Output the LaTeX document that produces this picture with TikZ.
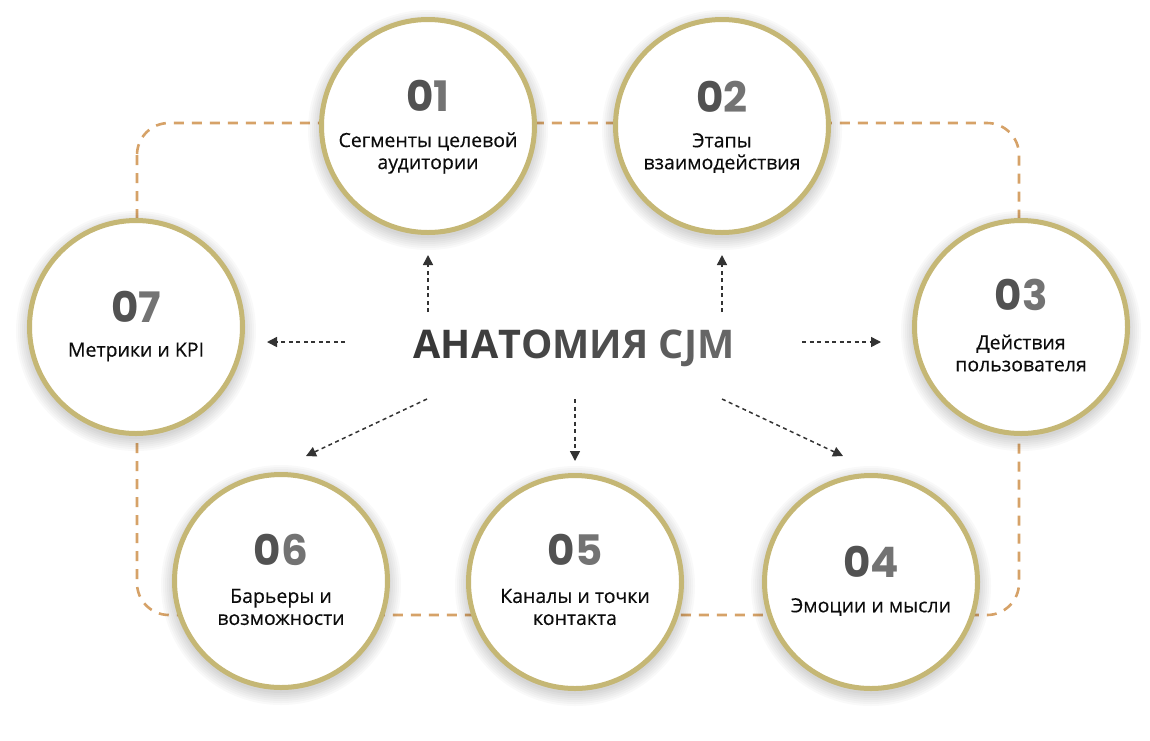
\documentclass[tikz,border=0pt]{standalone}
\usepackage{fontspec}
\setmainfont{Open Sans}
\newfontfamily\numfont{Poppins}
\newfontfamily\medfont{Open Sans}[FakeBold=0.35]
\usetikzlibrary{arrows.meta}
\definecolor{ring}{RGB}{197,183,117}
\definecolor{framec}{RGB}{214,162,104}
\definecolor{arrowc}{RGB}{51,51,51}
\definecolor{txt}{RGB}{12,12,12}
\newcommand\gl[2]{{\color[gray]{#1}#2}}
\newcommand\numtxt[2]{{\numfont\bfseries\gl{0.32}{#1}\gl{0.45}{#2}}}
\tikzset{
  circ/.style={circle, draw=ring, line width=5pt, fill=white, minimum size=213pt, inner sep=0pt},
  numlab/.style={font=\fontsize{42}{42}\selectfont, inner sep=0pt, anchor=center},
  txtlab/.style={font=\medfont\fontsize{19.5}{22}\selectfont, text=txt, align=center, inner sep=0pt, anchor=center},
  frameline/.style={draw=framec, line width=2.6pt, dash pattern=on 10pt off 8pt, rounded corners=32pt},
  conn/.style={draw=arrowc, line width=1.5pt, dash pattern=on 4pt off 3.5pt, -{Triangle[length=10pt,width=10pt]}},
  shad/.style={fill=black, fill opacity=0.022, draw=none}
}
\newcommand\shadowat[2]{%
  \foreach \r in {108,110,112,114,116,118,120}{\fill[shad] (#1,#2+4) circle[radius=\r];}}
\begin{document}
\begin{tikzpicture}[x=1pt,y=-1pt]
\useasboundingbox (0,0) rectangle (1150,740);
\fill[white] (0,0) rectangle (1150,740);
% frame
\draw[frameline] (137,123) rectangle (1019,615);
% shadows
\shadowat{428}{126}
\shadowat{722}{126}
\shadowat{1021}{327}
\shadowat{136}{327}
\shadowat{281}{581}
\shadowat{575}{582}
\shadowat{871}{582}
% circles
\node[circ] (c1) at (428,126) {};
\node[circ] (c2) at (722,126) {};
\node[circ] (c3) at (1021,327) {};
\node[circ] (c4) at (871,582) {};
\node[circ] (c5) at (575,582) {};
\node[circ] (c6) at (281,581) {};
\node[circ] (c7) at (136,327) {};
% labels
\node[numlab] (n1) at (428,96) {\numtxt{0}{1}};
\node[txtlab] (t1) at (428,153) {Сегменты целевой\\аудитории};
\node[numlab] (n2) at (722,97) {\numtxt{0}{2}};
\node[txtlab] (t2) at (722,153) {Этапы\\взаимодействия};
\node[numlab] (n3) at (1021,295) {\numtxt{0}{3}};
\node[txtlab] (t3) at (1021,353) {Действия\\пользователя};
\node[numlab] (n4) at (871,562) {\numtxt{0}{4}};
\node[txtlab] (t4) at (871,607) {Эмоции и мысли};
\node[numlab] (n5) at (575,550) {\numtxt{0}{5}};
\node[txtlab] (t5) at (575,607) {Каналы и точки\\контакта};
\node[numlab] (n6) at (281,550) {\numtxt{0}{6}};
\node[txtlab] (t6) at (281,607) {Барьеры и\\возможности};
\node[numlab] (n7) at (136,307) {\numtxt{0}{7}};
\node[txtlab] (t7) at (136,352) {Метрики и KPI};
% title
\node[font=\fontsize{39.5}{40}\selectfont\bfseries, inner sep=0pt] (title) at (574,348)
  {\gl{0.22}{А}\gl{0.23}{Н}\gl{0.245}{А}\gl{0.26}{Т}\gl{0.275}{О}\gl{0.29}{М}\gl{0.305}{И}\gl{0.32}{Я} \gl{0.36}{C}\gl{0.38}{J}\gl{0.40}{M}};
% arrow coordinates
\coordinate (s1) at (428,312); \coordinate (e1) at (428,255);
\coordinate (s2) at (722,312); \coordinate (e2) at (722,255);
\coordinate (s3) at (802,342); \coordinate (e3) at (881,342);
\coordinate (s4) at (722,399); \coordinate (e4) at (843,456);
\coordinate (s5) at (575,399); \coordinate (e5) at (575,461);
\coordinate (s6) at (427,399); \coordinate (e6) at (306,456);
\coordinate (s7) at (345,342); \coordinate (e7) at (267,342);
\foreach \i in {1,...,7}{\draw[conn] (s\i) -- (e\i);}
\end{tikzpicture}
\end{document}
